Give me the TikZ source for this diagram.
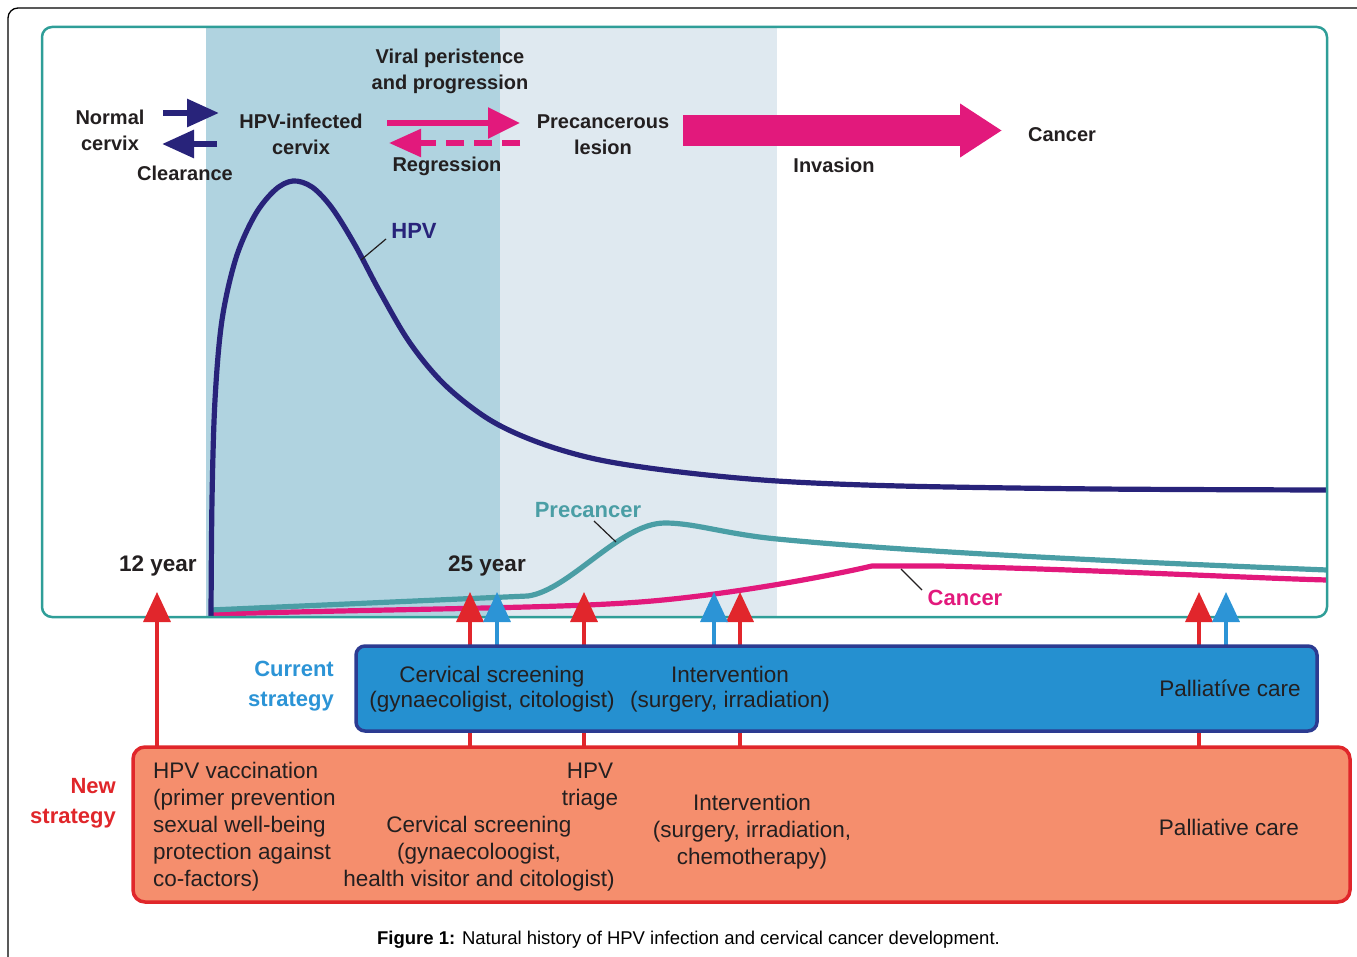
\documentclass[tikz,border=0pt]{standalone}
\usepackage{fontspec}
\setmainfont{Liberation Sans}
\usetikzlibrary{arrows.meta}
\definecolor{txt}{HTML}{231F20}
\definecolor{navyc}{HTML}{28237A}
\definecolor{tealc}{HTML}{4A9EA5}
\definecolor{magc}{HTML}{E2197C}
\definecolor{shadeA}{HTML}{B0D3E0}
\definecolor{shadeB}{HTML}{DFE9F0}
\definecolor{framec}{HTML}{2F9E98}
\definecolor{redc}{HTML}{E1262C}
\definecolor{bluec}{HTML}{2C94D6}
\definecolor{bboxfill}{HTML}{2590D0}
\definecolor{bboxdraw}{HTML}{2C3B91}
\definecolor{oboxfill}{HTML}{F58E6D}
\definecolor{oboxdraw}{HTML}{E0262A}
\tikzset{
  toplbl/.style={font=\fontsize{20}{26}\selectfont\bfseries, text=txt, align=center, inner sep=0pt},
  curvelbl/.style={font=\fontsize{22}{26}\selectfont\bfseries, inner sep=0pt},
  yearlbl/.style={font=\fontsize{22.5}{26}\selectfont\bfseries, text=txt, inner sep=0pt},
  stratlbl/.style={font=\fontsize{22}{30}\selectfont\bfseries, align=right, inner sep=0pt, anchor=east},
  boxtxt/.style={font=\fontsize{22.5}{25}\selectfont, text=txt, align=center, inner sep=0pt},
  boxtxtb/.style={font=\fontsize{22.5}{27}\selectfont, text=txt, align=center, inner sep=0pt},
  navyarrow/.style={draw=navyc, line width=6pt, -{Triangle[length=32pt,width=27pt]}},
  magarrow/.style={draw=magc, line width=5.5pt, -{Triangle[length=32pt,width=30pt]}},
  uparrow/.style={line width=3.5pt, -{Triangle[length=30pt,width=27pt]}},
  curve/.style={line width=5.2pt, line join=round},
  pointer/.style={draw=txt, line width=1.2pt},
}
\begin{document}
\begin{tikzpicture}[x=1pt,y=-1pt]
\useasboundingbox (0,0) rectangle (1357,957);
% outer frame
\draw[line width=1.3pt, rounded corners=10pt] (8,957) -- (8,8) -- (1357,8);

% shaded phases
\begin{scope}
  \clip[rounded corners=10pt] (42,27) rectangle (1327,617);
  \fill[shadeA] (206,27) rectangle (500,617);
  \fill[shadeB] (500,27) rectangle (777,617);
\end{scope}

% curves
\draw[curve, draw=magc] (211,614) .. controls (450,608) and (560,608) .. (640,602)
  .. controls (720,596) and (820,578) .. (872,566) -- (940,566)
  .. controls (1100,570) and (1250,578) .. (1327,580);
\draw[curve, draw=tealc] (211,610) -- (528,596) .. controls (570,590) and (620,523) .. (665,523)
  .. controls (695,523) and (725,534) .. (777,539)
  .. controls (900,551) and (1100,561) .. (1327,570);
\draw[curve, draw=navyc] plot[smooth, tension=0.55] coordinates {
  (211,617) (212,500) (215,400) (222,320) (236,258) (255,215) (275,190) (293,181)
  (312,187) (332,208) (355,245) (380,292) (410,343) (445,385) (490,420) (540,443)
  (600,460) (680,472) (777,481) (900,486) (1100,489) (1327,490)};

% frame of chart
\draw[framec, line width=2.5pt, rounded corners=10pt] (42,27) rectangle (1327,617);

% curve labels and pointers
\node[curvelbl, text=navyc] (hpvL) at (414,231) {HPV};
\node[curvelbl, text=tealc] (precL) at (588,510) {Precancer};
\node[curvelbl, text=magc] (cancL) at (965,598) {Cancer};
\coordinate (hpvP1) at (386,239); \coordinate (hpvP2) at (361,260);
\coordinate (preP1) at (594,521); \coordinate (preP2) at (616,542);
\coordinate (canP1) at (901,569); \coordinate (canP2) at (922,590);
\draw[pointer] (hpvP1) -- (hpvP2);
\draw[pointer] (preP1) -- (preP2);
\draw[pointer] (canP1) -- (canP2);

% top labels
\node[toplbl] (viral) at (450,71.5) {Viral peristence\\and progression};
\node[toplbl] (normal) at (110,130) {Normal\\cervix};
\node[toplbl] (hpvinf) at (301,134.5) {HPV-infected\\cervix};
\node[toplbl] (clear) at (185,173) {Clearance};
\node[toplbl] (regr) at (447,166) {Regression};
\node[toplbl] (precl) at (603,135) {Precancerous\\lesion};
\node[toplbl] (invas) at (834,165) {Invasion};
\node[toplbl] (cancT) at (1062,135) {Cancer};

% top arrows
\coordinate (na1) at (163,113); \coordinate (na2) at (219,113);
\coordinate (nb1) at (217,144); \coordinate (nb2) at (162,144);
\draw[navyarrow] (na1) -- (na2);
\draw[navyarrow] (nb1) -- (nb2);
\coordinate (ma1) at (387,123); \coordinate (ma2) at (520,123);
\coordinate (mb1) at (520,143); \coordinate (mb2) at (389,143);
\draw[magarrow] (ma1) -- (ma2);
\draw[magarrow, dash pattern=on 18pt off 10pt, -{Triangle[length=32pt,width=27pt]}] (mb1) -- (mb2);
\coordinate (big1) at (683,130.5); \coordinate (big2) at (1002,130.5);
\draw[draw=magc, line width=31pt, -{Triangle[length=42pt,width=51pt]}] (big1) -- (big2);

% year labels
\node[yearlbl] (y12) at (158,566) {12 year};
\node[yearlbl] (y25) at (487,566) {25 year};

% upward arrows
\foreach \x/\n in {157/a,470/b,584/c,740/d,1199/e}{
  \coordinate (rs\n) at (\x,747); \coordinate (rt\n) at (\x,592);
  \draw[uparrow, draw=redc, fill=redc] (rs\n) -- (rt\n);
}
\foreach \x/\n in {497/a,714/b,1226/c}{
  \coordinate (bs\n) at (\x,646); \coordinate (bt\n) at (\x,592);
  \draw[uparrow, draw=bluec, fill=bluec] (bs\n) -- (bt\n);
}

% strategy boxes
\draw[fill=oboxfill, draw=oboxdraw, line width=3.5pt, rounded corners=12pt] (133,747) rectangle (1350,902);
\draw[fill=bboxfill, draw=bboxdraw, line width=3.5pt, rounded corners=9pt] (356,646) rectangle (1317,731);

\node[stratlbl, text=bluec] (curS) at (334,686) {Current\\strategy};
\node[stratlbl, text=oboxdraw] (newS) at (116,803) {New\\strategy};

\node[boxtxt] (cs1) at (492,689.5) {Cervical screening\\(gynaecoligist, citologist)};
\node[boxtxt] (iv1) at (730,689.5) {Intervention\\(surgery, irradiation)};
\node[boxtxt] (pc1) at (1230,688) {Palliatíve care};

\node[boxtxtb, align=left, anchor=west] (vac) at (153,827) {HPV vaccination\\(primer prevention\\sexual well-being\\protection against\\co-factors)};
\node[boxtxtb] (tri) at (590,786.5) {HPV\\triage};
\node[boxtxtb] (cs2) at (479,854) {Cervical screening\\(gynaecoloogist,\\health visitor and citologist)};
\node[boxtxtb] (iv2) at (752,831.5) {Intervention\\(surgery, irradiation,\\chemotherapy)};
\node[boxtxtb] (pc2) at (1229,827) {Palliative care};

% caption
\node[font=\fontsize{18.5}{22}\selectfont, text=black, inner sep=0pt] (cap) at (688.5,940) {\textbf{Figure 1:} Natural history of HPV infection and cervical cancer development.};
\end{tikzpicture}
\end{document}
